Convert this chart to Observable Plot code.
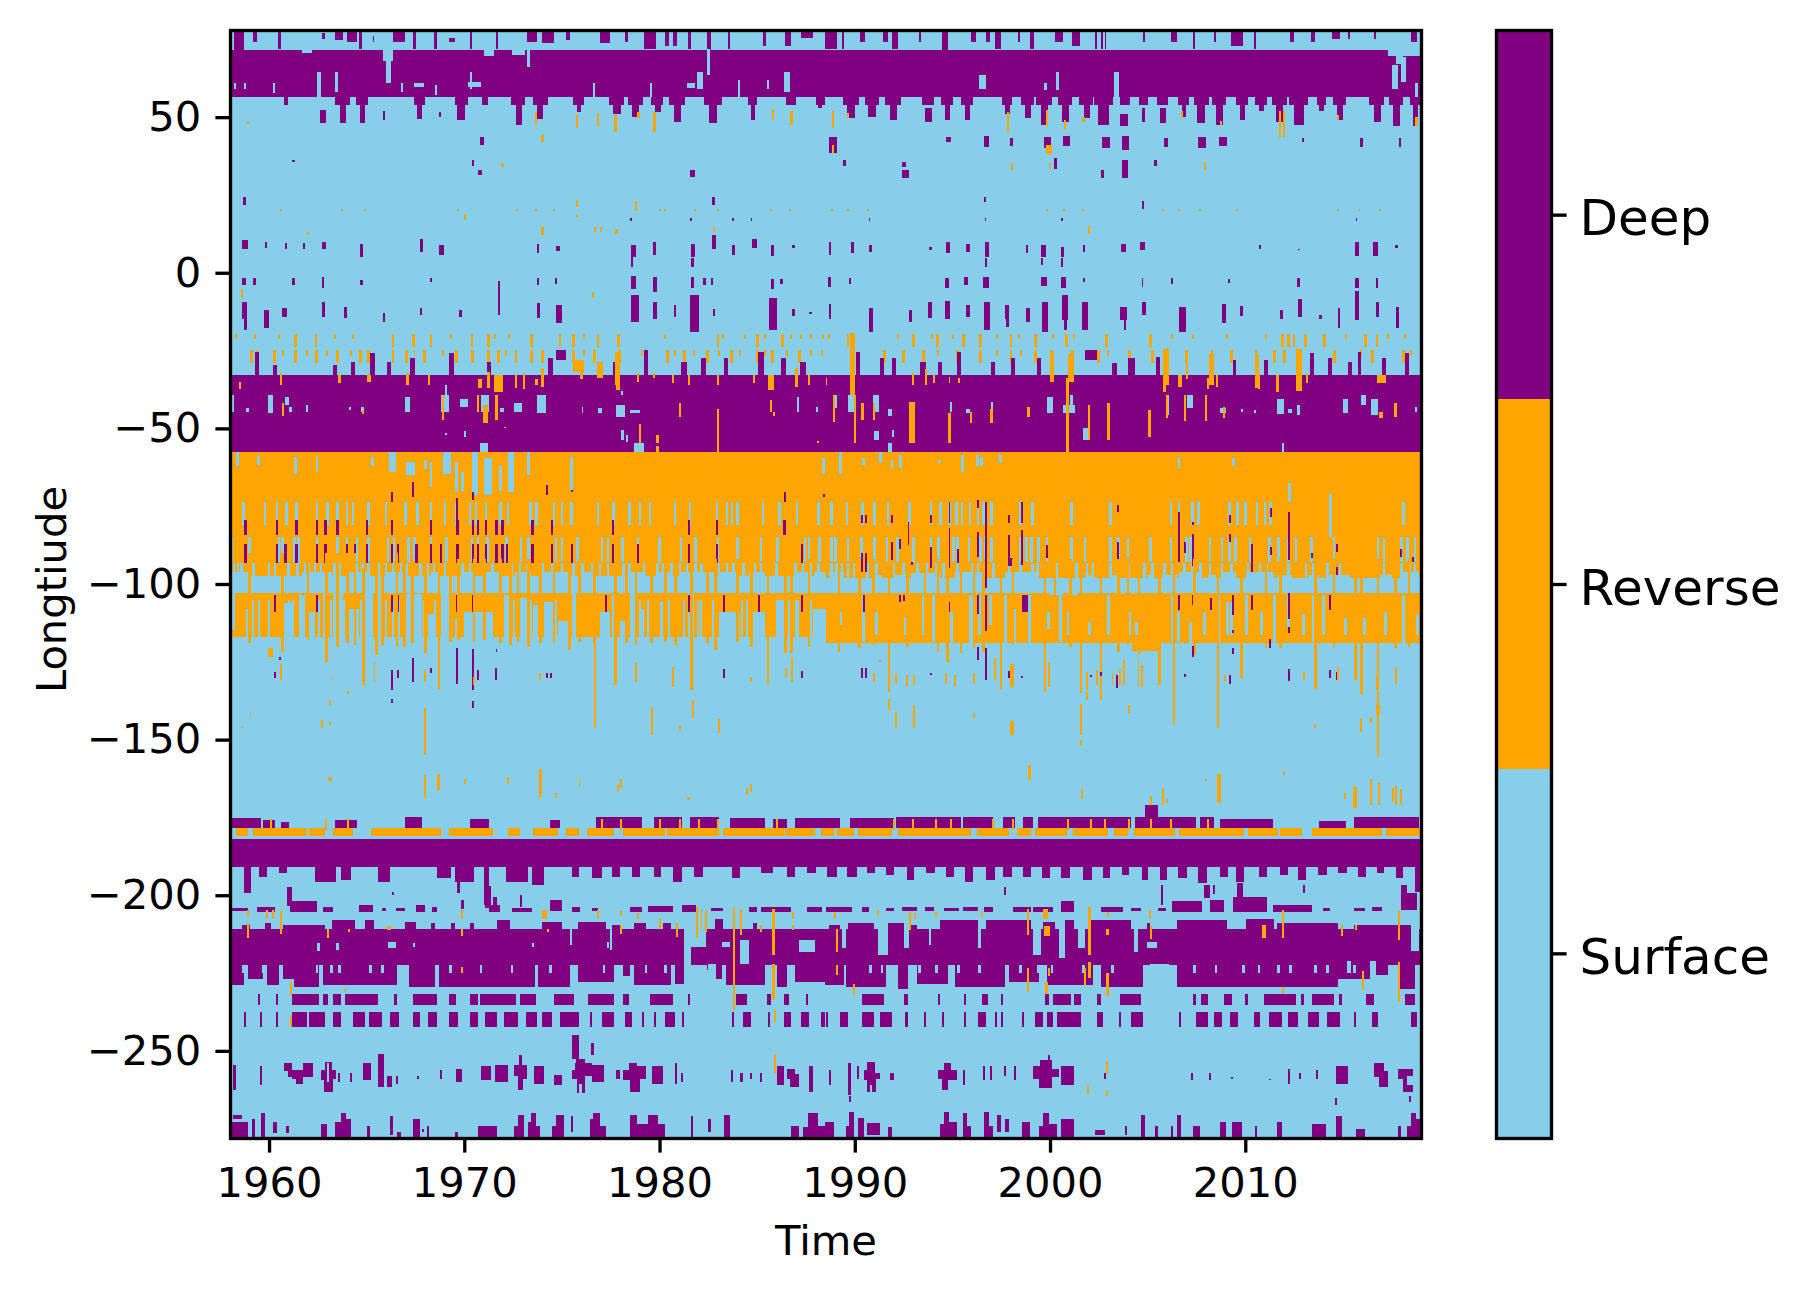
<!DOCTYPE html>
<html>
<head>
<meta charset="utf-8">
<script src="https://cdn.jsdelivr.net/npm/d3@7"></script>
<script src="https://cdn.jsdelivr.net/npm/@observablehq/plot@0.6"></script>
<style>
body { margin: 0; background: white; }
#chart { display: flex; width: 1810px; }
</style>
</head>
<body>
<div id="chart"></div>
<script>
// values: [from, to, lonA, lonB] blocks or [year, lonA, lonB] sticks
const kinds = ["Surface", "Reverse", "Deep"];
const kindColors = ["#87ceeb", "#ffa500", "#800080"];
const xTicks = [1960, 1970, 1980, 1990, 2000, 2010];
const yTicks = [50, 0, -50, -100, -150, -200, -250];
const xDomain = [1958, 2019];
const yDomain = [-278, 78];

const deepBands = [
  [1958,2019,71.7,56.5],[1958,2019,-33,-57.6],[1958,2019,-181.8,-190.9],[1958,2019,-211,-222.5]
];
const reverseBands = [[1958,2019,-57.6,-98],[1958,2019,-103,-117],[1988.5,2019,-117,-119],[2004.2,2005.6,-119,-121.5]];

// north fringe
const deepNorthTop = [
  [1958.23,1958.72,78,71.6],[1959.2,1959.4,78,74.2],[1960.45,1960.6,78,72],[1962.7,1962.85,77,75],[1963.4,1963.8,78,74.8],
  [1964,1964.5,78,74.2],[1964.6,1964.75,78,72],[1965.3,1965.4,76,74],[1966.37,1966.95,78,74.2],[1967.35,1967.55,78,72],
  [1968.43,1968.62,78,72],[1969.2,1969.5,75.3,74.2],[1970.3,1970.4,78,72],[1971.62,1971.72,78,72],[1973.23,1973.72,78,74.2],
  [1974,1974.6,78,73.7],[1975.2,1975.4,78,74.8],[1976.95,1977.45,78,73.7],[1978.23,1978.4,78,74],[1979.2,1979.8,78,72],
  [1980.3,1980.5,78,73],[1980.7,1980.9,78,73],[1981.45,1981.6,78,72],[1982.45,1982.65,78,69],[1983.5,1983.6,78,72],
  [1985.3,1985.45,78,73],[1986.45,1986.75,78,73],[1987.25,1987.85,78,75.5],[1988.48,1989.07,78,72],[1989.36,1989.45,78,72],
  [1990.25,1990.54,78,74],[1991.42,1991.72,78,74],[1991.91,1992.2,78,72],[1993.28,1993.38,78,74],[1994.46,1994.75,78,71.6],
  [1995.93,1996.22,78,74],[1996.72,1996.91,78,74],[1997.2,1997.5,78,72],[1998.38,1998.48,78,74],[1998.97,1999.17,78,72],
  [2000.24,2000.64,78,74],[2001.13,2001.52,78,73],[2002.3,2002.4,78,72],[2002.6,2002.7,78,72],[2002.8,2002.89,78,72],
  [2004.75,2004.85,78,74],[2006.22,2006.52,78,74],[2007.3,2007.4,78,72],[2008.38,2008.5,78,74],[2009.27,2009.86,78,73],
  [2010.44,2010.54,78,72],[2012.3,2012.5,78,74],[2013.38,2013.58,78,74],[2014.46,2014.85,78,75],[2015.24,2015.34,78,75],
  [2016.6,2016.7,78,75],[2018.48,2018.77,78,74]
];
const surfaceNorthNotches = [
  [1965.97,1966.27,72,60.9],[1965.85,1966.35,72,68],[1973.2,1973.35,72,66],[1982.45,1982.6,72,63.5],[1971,1971.5,72,69.6],
  [1972.45,1973.1,72,70],[1961.7,1962.2,72,70.5],[1962.45,1962.65,64.6,56.5],[1963.4,1963.55,64.6,58.2],[1970.3,1970.4,64.6,59.2],
  [1986.37,1986.66,64.6,58.2],[1985.5,1985.6,61.9,59.2],[1984,1984.1,61.9,56],[1960.2,1960.3,60.9,57.6],[1958.7,1958.8,60.9,59.2],
  [1958.2,1958.3,60.9,59.2],[1976.57,1976.67,60.9,56.5],[1979.5,1979.6,60.9,56.5],[1981.4,1981.8,61,59.5],[1981.9,1982.25,64.6,59.2],
  [1970.2,1970.85,61.4,59.8],[1966.75,1966.87,60.9,58.2],[1967.4,1967.95,60.9,59.8],[1968.5,1968.6,60.3,57],
  [2017.5,2017.8,66.7,59.2],[2018,2018.25,69.4,61.4],[2017.3,2019,72,69.5],[2017.7,2018.1,72,67],[2018.7,2018.85,60.9,56.5],
  [2003.3,2003.55,64.6,55],[2000.3,2000.45,64.6,58.7],[1996.35,1996.7,63.5,59.2],[1999.7,1999.85,60.9,58.7]
];
const deepNorthShoulders = [
  [1963.4,1964.15],[1964.45,1965.05],[1967.4,1968],[1969.5,1970.2],[1972.4,1973.1],[1973.5,1974.3],[1975.55,1976.15],[1977.4,1978.2],[1978.4,1979.15],[1979.55,1980.2],[1980.5,1981.3],
  [1982.3,1983.2],[1984.55,1985],[1986.5,1987],[1988,1988.48],[1989.4,1990.2],[1990.5,1991.25],[1991.55,1992.35],[1993.45,1994.05],[1994.4,1995.05],[1995.45,1996.05],[1997.55,1998.05],
  [1998.5,1999.2],[1999.3,2000.1],[2000.4,2001.15],[2001.5,2002.2],[2002.25,2003.2],[2003.6,2004.1],[2004.55,2005],[2005.5,2006.05],[2006.55,2007.1],[2007.35,2008.15],[2008.3,2009],
  [2009.5,2010.15],[2010.5,2011.1],[2011.35,2012.15],[2012.25,2013.2],[2013.65,2014.15],[2014.5,2015.15],[2016.35,2017.1],[2017.35,2018.1],[2018.45,2019]
];
const deepNorthTeeth = [
  [1960.78,1960.98,57,54],[1962.6,1962.94,52.4,48],[1963.65,1963.95,57,48],[1964.65,1964.9,57,48],[1965.83,1965.92,52,49],
  [1967.6,1967.85,57,49.5],[1968.7,1968.8,51.5,50],[1969.65,1970.05,57,49],[1970.9,1971.2,57,54],[1972.65,1972.95,57,47.5],
  [1973.7,1974.05,57,49.3],[1975.75,1976,57,51.5],[1977.6,1978.05,57,51],[1978.57,1978.95,57,50],[1979.75,1980.05,57,51.5],
  [1980.75,1981.1,57,48.5],[1982.55,1982.95,57,48],[1984.7,1984.9,57,49],[1986.66,1986.8,52,48],[1988.1,1988.33,57,53],
  [1989.62,1990,57,49.6],[1990.7,1991.08,57,50],[1991.78,1992.15,57,49],[1993.62,1993.93,53,48.5],[1994.6,1994.87,57,49],
  [1995.62,1995.9,57,49],[1997.7,1997.93,57,51],[1998.73,1999.02,57,49.6],[1999.52,1999.9,57,47.5],[2000.6,2000.98,57,48.5],
  [2001.72,2002.05,57,49.6],[2002.48,2003.02,57,47.5],[2003.58,2003.97,51,47],[2004.72,2004.85,53,48.5],[2005.64,2005.93,53,48],
  [2006.75,2006.95,57,50],[2007.55,2007.95,57,48.2],[2008.5,2008.85,57,47.5],[2009.72,2010,57,49],[2010.68,2010.95,57,52],
  [2011.58,2011.95,57,48.5],[2012.48,2013,57,47.5],[2013.8,2014.03,57,52],[2014.72,2015,57,49],[2016.58,2016.95,57,48.5],
  [2017.55,2017.95,57,47],[2018.6,2018.85,57,47]
];
const reverseNorthSticks = [
  [1973.66,51.5,47.5],[1975.78,50.7,46.6],[1976.86,51.2,47],[1977.74,50.7,45.3],[1978.92,51.8,49.6],[1979.74,51.5,45.1],
  [1986.76,52,47.5],[1985.82,52.6,49],[1958.92,48.8,47.7],[1988.9,52,46.6],[1989.66,51.2,49.6],[1997.85,51.5,44.8],
  [1999.85,52.3,47.3],[2000.77,49,45.9],[2001.72,50.1,48.3],[2011.77,52,43.7],[2011.97,52,43.7],[2014.75,50.7,49],
  [2018.77,50.1,47.1],[2006.76,52,49.6],[2008.77,48.8,47.5],[1974,44.3,41.9],[1971.96,35.2,34.1]
];
const deepScatterNorth = [
  [1970.78,1971.03,43.7,41],[1961.2,1961.35,36.3,35.5],[1970.4,1970.5,36.2,34.4],[1970.68,1970.92,33,31.4],[1981.56,1981.82,33,30.9],
  [1988.68,1989.07,43.7,38.4],[1994.66,1994.95,43.7,41.9],[1996.62,1996.87,43.9,40.5],[1997.93,1998.08,43.4,40.8],[1999.7,2000.05,43.7,40],
  [2000.64,2001,44,40.8],[2002.64,2003.09,43.7,40],[2003.68,2004.07,44,39.4],[2005.83,2006.03,43.2,40.5],[2007.6,2008,43.7,40],
  [2008.67,2009.06,43.7,40.8],[2012.9,2013,43.2,41.9],[2015.9,2016.03,43.2,40.5],[2017.85,2018,43.2,40.5],[1989.42,1989.56,36.2,34.4],
  [1992.4,1992.64,35.7,34.1],[1992.4,1992.8,33,30.5],[2000.2,2000.34,36.8,33.5],[2002.6,2002.74,33,30.5],[2003.68,2003.97,36.2,30.3],
  [2005.3,2005.48,36.2,34.4],[1958.68,1958.82,24.4,21.8],[1982.7,1982.85,24.4,21.8],[1996.6,1996.72,24.4,22.8],[2004.7,2004.8,23,20.5]
];
const reverseScatterNorth = [
  [1988.9,41,38.4],[1999.8,2000.1,41,38],[1998.05,35.2,33],[1999.99,35.2,33.5],[2007.93,35.5,33],[1975.78,23.3,21.2],[1978.8,23,20],
  [1970.03,19,17],[1975.78,19,17.9],[1974,14.8,12.1],[1976.7,14.8,13.2],[1977,14.8,13.2],[1977.8,14.2,12.3],[1962,13,12.1],
  [2002,15,12.3],[1982.78,14.8,13.2],[1958.6,-5.3,-8],[1976.6,-6.1,-8.2]
];
const reverseDotYears = [
  1960.6,1963.75,1964.9,1969.7,1972.7,1973.65,1974.6,1980,1980.3,1981.8,1983,1985.7,1986.7,1988.85,1989.65,1990.7,
  1999.85,2000.7,2001.7,2005.8,2006.6,2007.7,2009.6,2014.75,2015.85,2016.9
];
const deepDots14Years = [1978.55,1981.6,1983.75,1984.7,1990.75,1996.7,2000.6,2015.7];

// the yearly rows of small deep patches through the surface layer
const deepRow8 = [
  [1958.6,1958.92,10.5,7.6],[1959.84,10,8],[1960.88,9.5,7.7],[1961.8,9.5,7.7],[1962.72,1962.9,10,7.6],[1964.74,9.4,5.2],[1967.72,1967.88,11,6.8],
  [1968.7,1968.95,9,5.7],[1973.78,9.4,6.5],[1974.68,1974.88,8.7,7],[1978.55,1978.8,9,5.2],[1978.6,5.2,1.9],[1979.66,1979.84,9.8,5.7],
  [1981.6,1981.82,9.4,5.2],[1981.68,4.6,1.9],[1982.68,1982.88,12,7.6],[1983.78,9,5.7],[1984.75,1984.98,10.8,8],[1985.78,8.9,5.5],[1986.86,9,7.8],
  [1988.72,10,5.7],[1989.8,1989.95,9.8,6.5],[1990.72,1990.88,8.9,6.8],[1993.87,8.4,7.3],[1994.66,1994.9,9.8,6.2],[1995.68,1995.9,9.4,6.8],
  [1996.65,1996.85,10,5.2],[1996.72,4.6,1.9],[1998.81,9,6.2],[1999.55,1999.8,9,5.2],[1999.6,4.6,2.4],[2000.55,2000.72,8.4,5],[2000.62,4.6,1.9],
  [2001.75,9,6.8],[2003.65,2003.88,9.4,6.8],[2004.6,2004.88,10,7.3],[2010.77,9,7.6],[2012.75,7.6,7.2],[2015.62,2015.85,10,5.5],[2016.55,2016.8,9.8,5.5],[2017.75,9,7.8]
];
const deepRowMinus3 = [
  [1958.6,1958.82,-1.6,-3.9],[1959.25,-1.6,-3.9],[1961.25,-1.6,-3.9],[1962.78,-1.3,-5],[1964.74,-2.3,-3.9],[1968.3,-1.6,-3.1],[1973.78,-1.6,-3.9],
  [1974.7,-1.6,-3.5],[1978.55,1978.8,-0.9,-5.2],[1979.65,1979.85,-1.3,-6.1],[1981.62,1981.78,-1.3,-5],[1982.3,-1.8,-4],[1982.7,-1.8,-3.9],
  [1985.7,1985.86,-2.1,-5.2],[1986.25,-2.1,-3.7],[1988.62,1988.76,-1.5,-4.5],[1989.7,1989.8,-1.6,-3.7],[1994.6,1994.8,-1.6,-4.8],[1995.6,1995.8,-1.3,-3.9],
  [1996.55,1996.85,-1.3,-5],[1999.55,1999.85,-1.5,-4.2],[2000.55,2000.8,-1.5,-5],[2001.75,-1.6,-3.1],[2004.72,2004.78,-1.6,-4.7],[2006.25,-1.6,-3.7],
  [2009.15,-2,-3.2],[2012.72,-1.8,-4.5],[2015.6,2015.85,-1.6,-5],[2016.7,2016.8,-1.6,-4.8]
];
const deepRowMinus12 = [
  [1958.62,1958.85,-9.5,-14.7],[1958.8,-14.7,-18.4],[1959.75,1959.98,-12,-17.9],[1960.65,1960.9,-11.4,-14.1],[1962.72,1962.88,-9.5,-14.1],
  [1963.82,1964,-10.9,-14.5],[1965.82,1965.95,-13,-15.7],[1967.78,-11.4,-13.6],[1969.8,-12,-14.1],[1971.78,-2.7,-13.6],[1973.72,1973.9,-9.8,-14.5],
  [1974.7,1975,-10.4,-16.3],[1978.55,1978.95,-7.2,-15.7],[1979.68,1979.88,-9.3,-14.7],[1980.78,-10.4,-14.1],[1981.55,1982,-7.2,-18.9],[1982.78,-11.6,-13.8],
  [1985.6,1986,-8.2,-18.4],[1986.86,-11.7,-13.8],[1987.74,-12.7,-13.4],[1988.72,-10.1,-14.7],[1990.75,1990.92,-11.4,-18.9],[1992.8,1992.95,-12,-15.7],
  [1993.75,1993.95,-9.5,-14.5],[1994.6,1994.9,-9.1,-14.7],[1995.7,1995.92,-10.4,-14.1],[1996.6,1996.9,-9.3,-18.4],[1997.7,1997.9,-10.4,-14.7],[1997.82,-14.7,-17.3],
  [1998.75,1998.95,-11.4,-15.7],[1999.6,1999.9,-9.3,-18.9],[2000.6,2000.92,-7.2,-15.2],[2000.8,-15.2,-18.4],[2001.65,2001.92,-9.5,-18.4],[2003.6,2003.95,-10.9,-15.2],
  [2003.85,-15.2,-18.4],[2004.72,2004.9,-9.5,-13.6],[2006.6,2006.95,-10.9,-18.9],[2008.8,2009,-10.1,-16.3],[2009.8,-10.6,-14],[2011.85,-12,-14.7],[2012.7,2012.88,-8.5,-14.1],
  [2013.85,-13.6,-14.7],[2014.8,-11.4,-17.9],[2015.6,2015.8,-6,-15.2],[2016.7,2016.85,-9.5,-14.1],[2017.72,2017.88,-10.9,-17.9]
];

// reverse fringe above the -33 deep band
const fringeUpperTall = [
  1961.35,1962.4,1966.35,1967.4,1968.3,1970.4,1971.25,1973.45,1974.9,1975.6,1976.85,1977.9,1983,1985,1986.3,1989.65,1993,1994.25,1995.55,1996.45,1998,1999.25,2000.85,2002.9,2005.15,
  2011.9,2012.2,2012.5,2013.1,2014.05,2016.15,2016.75
];
const fringeUpperShort = [
  1958.3,1959.3,1960.5,1963.4,1964.3,1969.3,1971.55,1972.3,1976.15,1980.3,1983.25,1984.4,1985.4,1986.75,1987.25,1987.75,1988.35,1988.7,1992.2,1993.95,1995.05,1997.3,1998.4,2000.15,2001.25,
  2006.25,2007.3,2009.05,2011.05,2015.15,2017.3,2018.2
];
const fringeLowerTall = [
  1959.1,1960.3,1961.35,1962.45,1963.5,1964.7,1965.1,1966.35,1967.05,1967.95,1969.6,1970.4,1971.25,1971.75,1972.65,1973.45,1974,1975.6,1976.65,1977.95,1980.4,1981.3,1982.45,1983.7,1985,1985.8,
  1987.15,1991.5,1992.5,1993.5,1995.25,1996.45,1998,1999.25,2001.15,2002.5,2004.05,2005.25,2007,2009.3,2011.5,2012,2014.55,2016.5,2018.1
];
const fringeLowerShort = [
  1959.4,1960.7,1961.95,1962.95,1964.2,1967.45,1968.9,1972.15,1976.15,1979.1,1980.8,1981.75,1983.05,1984.1,1985.4,1986.55,1987.75,1988.3,1994.25,1997.3,1998.5,2000.05,2002,2002.95,2006,2008.3,
  2010.55,2012.8,2015.95,2018.5
];
const deepSpikesUp = [
  [1959.3,1959.5,-25.4,-33],[1960.2,1960.4,-29.6,-33],[1963.3,1963.5,-29.6,-33],[1964.2,1964.4,-28.6,-33],[1965.15,1965.45,-25.9,-33],[1966.05,1966.25,-28.6,-33],
  [1967.2,1967.5,-27.5,-33],[1969.2,1969.45,-25.9,-33],[1971.15,1971.35,-28.6,-33],[1974.3,1974.55,-27.5,-33],[1974.7,1975.2,-24.8,-28],[1977.6,1977.85,-28.6,-33],
  [1979.2,1979.4,-24.8,-33],[1981.1,1981.4,-28.6,-33],[1982.1,1982.4,-27.5,-33],[1983.3,1983.5,-27.5,-33],[1985.05,1985.35,-25.4,-33],[1986.2,1986.5,-27.5,-33],
  [1987.2,1987.5,-28.6,-33],[1990.05,1990.25,-25.4,-33],[1991.3,1991.5,-27.5,-33],[1991.9,1992.1,-27.5,-33],[1993.35,1993.65,-28.6,-33],[1994.25,1994.45,-28.6,-33],
  [1995.25,1995.45,-25.4,-33],[1997,1997.2,-28.6,-33],[1998,1998.2,-27.5,-33],[1999.35,1999.55,-27.5,-33],[2001.8,2002.4,-24.8,-28],[2003.15,2003.45,-29,-33],
  [2004,2004.35,-27.5,-33],[2005.45,2005.65,-27,-33],[2008.2,2008.4,-27.5,-33],[2009.35,2009.55,-28,-33],[2010.95,2011.15,-28,-33],[2013.3,2013.5,-25.8,-33],
  [2014.25,2014.45,-27.5,-33],[2015.25,2015.45,-28.6,-33],[2015.75,2015.95,-25.4,-33],[2017,2017.2,-27.5,-33],[2018.2,2018.4,-25.9,-33]
];
const reverseOverBand = [
  [1960.55,1960.65,-32.3,-36.1],[1958.45,1958.55,-35,-37.2],[1963.55,1963.7,-32.9,-35.5],[1965,1965.2,-32.9,-35],[1967,1967.15,-32.3,-36.1],
  [1968.15,1968.25,-32.9,-36.1],[1970.7,1970.9,-34,-37],[1971.15,1971.3,-32,-37],[1971.5,1972,-32.9,-38.2],[1972.6,1972.7,-32.9,-37],[1973,1973.1,-32.3,-37.2],
  [1973.6,1973.8,-34,-36.1],[1973.95,1974.1,-30.7,-36.6],[1977.75,1978,-33,-37.7],[1978.85,1978.95,-32.3,-35],[1979.65,1979.75,-32.3,-33.9],[1980.65,1980.75,-32.9,-35.5],
  [1981.45,1981.55,-32.9,-36.1],[1982.95,1983.05,-32.9,-36.1],[1984.8,1984.9,-33,-35.5],[1985.55,1985.85,-33,-37.7],[1986.95,1987.1,-30.7,-36.6],[1987.62,1987.72,-33,-36],
  [1975.55,1976.15,-28,-31.8],[1975.95,1976.1,-31,-34],[1976.8,1977.1,-28.6,-33.9],[1977.7,1978,-25.4,-36.1],[1988.5,1988.6,-33.9,-36],[1989.78,1990,-19.5,-39.3],
  [1992.95,1993.05,-32.3,-36.1],[1993.58,1993.72,-31,-36.1],[1994,1994.1,-32.9,-35.5],[1994.8,1994.9,-33.5,-35.5],[1995.3,1995.4,-33.9,-35.5],[2000.8,2000.95,-33.9,-39.3],
  [2005.8,2005.95,-31.8,-38.2],[2006.55,2006.75,-32.9,-36.6],[2008.05,2008.15,-33.9,-37.2],[2008.5,2008.6,-32.9,-36.6],[2010.65,2010.75,-32.9,-37.2],[2011.55,2011.75,-32.9,-38.2],
  [2012.65,2012.8,-32.9,-37.7],[2013.1,2013.2,-32.3,-35.5],[2016.75,2017.2,-32.9,-35.5],[2000,2000.2,-25,-35],[2000.9,2001.25,-26,-35],[2005.8,2006.1,-24.5,-36],
  [2006.95,2007.05,-25,-34],[2008.15,2008.4,-26,-36],[2010.5,2010.7,-26.5,-37],[2012.6,2012.9,-24.5,-38]
];
const surfaceInBand = [
  [1958.1,1958.2,-39.3,-44.7],[1958.8,1958.95,-43.6,-44.7],[1959.95,1960.2,-39.3,-44.9],[1960.8,1961,-39.8,-42.5],[1961,1961.2,-43,-44.7],[1961.9,1962,-42.5,-44.7],
  [1964.1,1964.2,-43,-44.1],[1964.7,1964.85,-43,-44.7],[1966.95,1967.2,-39.8,-44.7],[1968.8,1969.2,-39.3,-44.7],[1969.8,1970.2,-40.4,-43],[1970.85,1971.25,-39.3,-44.7],
  [1971.85,1972.05,-43.6,-44.7],[1972.55,1972.95,-42,-44.7],[1973.7,1974.2,-39.3,-45.2],[1976.05,1976.1,-43,-45.2],[1976.85,1977.05,-43.6,-44.9],[1977.75,1978.25,-42.5,-46.3],
  [1978.5,1979,-44.1,-44.9],[1987.05,1987.15,-39.8,-44.7],[1988,1988.1,-43,-44.7],[1978.05,1978.2,-50.5,-53.8],[1978.3,1978.4,-52.2,-54.3],[1978.7,1979.2,-54.8,-57.6],
  [1970.8,1971.2,-54.8,-57.6],[1969,1969.1,-51.5,-52],[1970,1970.1,-51,-52.7],[1988.9,1989.1,-39.3,-43.6],[1989.65,1989.95,-39.3,-44.7],[1990.95,1991.25,-39.3,-44.7],
  [1991.7,1991.9,-43.8,-45.9],[1991,1991.25,-50.9,-53.8],[1991.9,1992,-50.5,-52.7],[1991.7,1991.9,-54.8,-57.6],[1994.9,1995,-41.4,-44.7],[1995.7,1995.9,-43.8,-45.2],
  [1997,1997.1,-41.4,-44.1],[1999.85,2000.15,-39.8,-45.2],[2000.65,2001.3,-42.5,-45.2],[2001,2001.2,-39.3,-42.5],[2001.7,2002,-50,-53.8],[2006,2006.1,-39.3,-45.7],
  [2007,2007.3,-39.3,-43.6],[2008.7,2009,-43.6,-45.2],[2009.8,2009.9,-43.8,-44.7],[2010.45,2010.55,-44,-44.9],[2011.6,2012,-40.4,-45.5],[2012.2,2012.4,-43.8,-44.9],
  [2012.65,2012.8,-42.5,-45.7],[2015,2015.25,-40.4,-44.9],[2015.95,2016.2,-39.3,-42.5],[2016.45,2016.8,-40.4,-45.7],[2011.9,2012,-54.8,-57.6],[2018.7,2018.8,-43,-44.7],
  [1969,1969.1,-36,-39.3],[1978.05,1978.15,-38,-39.3]
];
const reverseInBand = [
  [1960.7,-42,-45.9],[1964.8,-44.1,-45.5],[1968.9,-39.3,-47.3],[1970.7,-39.3,-44.7],[1970.95,1971.2,-42.5,-48.4],[1971.65,-39.3,-47.3],[1972.1,-49.7,-50],[1979,-48.7,-54.8],
  [1979.9,-52,-54.8],[1979.9,-55.5,-57.6],[1981.05,-42,-46.3],[1983,-43.8,-57.5],[1985.7,-40.9,-44.7],[1985.85,-44.7,-46],[1988.1,-54,-54.8],[1988.95,-39.3,-47.9],
  [1990,-39.3,-54.8],[1990.4,-42,-47.3],[1991,-42,-47.3],[1992.8,1993.1,-41.5,-54.8],[1994.85,-45.2,-54.8],[1995.95,-44.7,-48.4],[1997,-43.8,-48.4],[1998.9,-43,-46.3],
  [2000.9,-39.3,-57.6],[2002,-42.5,-53.8],[2003,-42,-53.8],[2005.1,-44.1,-52.7],[2006,-39.3,-46.6],[2006.9,-39.3,-47.7],[2008,-39.3,-47.7],[2008.9,-43,-46.6],[2017.7,-42,-46.3],
  [2016.85,2017.05,-44.7,-46.8]
];

// reverse block: surface columns and deep columns
const surfaceTopColumns = [
  [1958.4,-57.6,-62],[1959.45,-59,-61.8],[1961.35,-59.1,-64.5],[1962.45,-59,-64.1],[1965.3,-59.1,-62],[1966.15,1966.5,-57.6,-64.1],[1967,1967.45,-60.7,-65],[1968,-60,-63],
  [1968.3,-60.7,-68.8],[1968.9,1969.3,-57.6,-64.5],[1969.6,-60.7,-70.4],[1970.4,1970.7,-57.6,-71.4],[1971,1971.4,-59.6,-71.4],[1972.25,1972.55,-57.6,-70.4],[1973.3,-57.6,-65],
  [1975.5,-59.1,-69.9],[1988.4,-59.6,-64.5],[1971.85,-62,-70],[1969.9,-64,-70],[1989.25,-57.6,-64.5],[1990.45,-59.6,-61.8],[1991.3,-57.6,-61.2],[1991.9,-60.2,-62.9],
  [1992.35,-58.6,-62.7],[1994.35,-60.2,-61.2],[1995.5,-58.6,-64],[1996.3,-58.6,-62],[1996.5,-59.1,-62],[1997.45,-58.4,-61.2],[2006.6,-59.1,-62.7],[2009.4,-59.6,-62],
  [2012.25,-67.7,-73.6],[2014.35,-71,-85]
];
const surfaceColumnsA = [
  1958.7,1959.8,1960.4,1960.9,1961.4,1962.45,1963,1963.5,1964,1964.3,1965.1,1966,1967,1967.6,1968.3,1969,1969.6,1970.3,1970.6,1971.1,1971.85,1972.25,1973.4,1973.7,
  1974.6,1975,1975.5,1976.85,1977.65,1978.45,1979,1979.5,1980.8,1981.55,1982.95,1983.45,1983.7,1984,1985.3,1986.15,1987.05,1988.15,1988.8,1989.6,1990.4,1991,1991.7,
  1992.8,1993.9,1994.4,1994.85,1995.2,1995.5,1995.9,1996.3,1996.6,1997,1998.5,1999.1,2001.1,2003.1,2006.2,2006.6,2007.3,2007.6,2009.2,2009.6,2010,2010.6,2011,2011.3,2014.4,2018.1
];
const surfaceColumnsB = [
  1958.1,1959,1960.5,1960.7,1961.3,1961.5,1962.45,1963.5,1964,1964.5,1965.1,1966.1,1966.4,1967.15,1967.45,1968.3,1969.1,1970.4,1970.7,1971.2,1972.15,1972.9,1973.3,1974.7,
  1975,1975.8,1977.05,1977.35,1978.1,1978.9,1980,1981.1,1981.85,1983,1984,1985.2,1986.05,1987.45,1987.65,1988.2,1988.8,1989,1989.65,1990.35,1991,1991.65,1992.2,1993,1993.9,
  1994.3,1995.05,1995.25,1995.85,1996.45,1996.7,1997,1997.9,1998.5,1998.8,1999.05,1999.4,1999.85,2001.1,2001.8,2003.1,2003.5,2004,2005.15,2006.2,2007,2007.2,2008.2,2008.8,
  2009.2,2009.5,2010.25,2011.25,2011.7,2012.2,2012.6,2013.4,2014.55,2016.8,2017.1,2018,2018.3,2018.7
];
const surfaceColumnsC = [
  1958.2,1958.4,1958.6,1959.2,1960,1960.3,1960.7,1961,1961.45,1961.85,1962.05,1962.35,1962.65,1962.95,1963.35,1963.6,1964,1964.5,1964.8,1965.1,1965.6,1966,1966.35,1966.75,1967.05,1967.75,
  1968.15,1968.45,1969,1969.3,1969.9,1970.3,1971,1971.45,1971.85,1972.45,1972.85,1973.2,1974,1974.5,1975,1975.6,1976.05,1976.55,1976.95,1977.35,1978.15,1978.45,1978.8,1979.2,1979.9,1980.2,
  1980.6,1981.05,1981.4,1981.85,1982.15,1982.45,1983.05,1983.45,1983.8,1984.3,1984.9,1985.2,1986,1986.45,1986.95,1987.35,1987.75,1988.15,
  1988.8,1989.05,1989.35,1989.65,1989.95,1990.65,1991.1,1992,1992.5,1993.2,1993.7,1994.15,1994.55,1995.25,1996,1996.3,1996.7,1997.1,1997.9,1998.5,1999.1,1999.35,2000.35,2001.05,2001.35,
  2001.9,2002.2,2003.1,2004.05,2004.85,2005.25,2005.85,2006.25,2006.9,2007.3,2007.7,2008.2,2008.8,2009.3,2010.15,2010.75,2011.1,2011.8,2012.2,2013.1,2013.5,2014.2,2014.85,2017.1,2018,2018.4,2018.7
];
const surfaceBlobs = [
  [1958,1988.5,-97.5,-103],[1958.1,1958.9,-96,-97.5],[1961.7,1963.2,-96,-97.5],[1964,1965,-96,-97.5],[1966,1966.95,-96,-97.5],[1968.3,1968.7,-96,-97.5],[1969.9,1970.5,-96,-97.5],
  [1971.1,1971.85,-96,-97.5],[1972.6,1973.4,-96,-97.5],[1974,1975.4,-96,-97.5],[1975.8,1976.55,-96,-97.5],[1978.1,1979.3,-96,-97.5],[1979.9,1980.65,-96,-97.5],[1981,1982.8,-96,-97.5],
  [1983,1984,-96,-97.5],[1984.6,1985.4,-96,-97.5],[1987,1987.7,-96,-97.5],[1987.9,1988.45,-96,-97.5],
  [1988.7,1989.45,-96,-103],[1991,1991.4,-97,-103],[1992,1992.6,-97,-102.5],[1992.9,1994.35,-96.5,-102.5],[1995.15,1996.7,-96,-102.5],[1997.7,1999.45,-96,-102.5],[2000,2000.65,-98,-103.6],
  [2001,2001.45,-98,-103.5],[2001.8,2002.2,-97,-103],[2003,2003.6,-97,-103],[2004,2004.35,-98,-102.5],[2004.95,2005.35,-97,-103],[2005.75,2006.5,-97,-103],[2006.6,2007.8,-96,-103],
  [2008.1,2008.5,-97,-103],[2008.8,2009.5,-96,-103],[2010.05,2011.45,-96,-103],[2011.6,2012.4,-97,-103],[2013.2,2013.8,-97,-103],[2014.2,2015.35,-97,-103],[2016.9,2017.5,-97,-103],[2017.9,2018.9,-96,-103]
];
const surfaceLowerColumns = [
  [1958.1,1958.25,-103,-114.8],[1958.8,1958.95,-107.9,-117],[1960.7,1961.15,-106.2,-117],[1961.55,1961.85,-103.6,-117],[1962.05,1962.35,-108.9,-117],[1962.75,1962.9,-103,-117],
  [1963.3,1963.8,-103,-118.6],[1964,1964.6,-107.9,-117],[1964.9,1965.3,-103,-121.8],[1965.6,1965.75,-103,-119.6],[1966.95,1967.85,-103.3,-117],[1968.15,1968.45,-109.5,-117],
  [1968.8,1969.3,-103,-117],[1969.5,1969.65,-111,-117],[1970,1971.45,-108.9,-117],[1972.05,1972.35,-103.6,-117],[1972.85,1973.25,-104.6,-117],[1973.5,1973.8,-106.7,-117],
  [1974.1,1974.6,-105.7,-117],[1974.8,1975.3,-112,-117],[1975.5,1975.7,-103,-117],[1976.95,1977.45,-108.9,-117],[1977.55,1977.75,-103.6,-117],[1977.95,1978.3,-112,-117],
  [1978.5,1978.8,-103,-117],[1979,1979.2,-108,-117],[1980,1980.2,-105.7,-117],[1981.45,1981.75,-103,-117],[1982.05,1982.2,-105,-117],[1983.05,1984.1,-108.9,-117],[1984.8,1985.4,-108.9,-117],
  [1986.05,1986.35,-105,-117],[1986.95,1987.15,-105,-117],[1987.85,1988.5,-107.9,-119]
];
const surfaceLowerThin = [
  1959.2,1959.5,1960,1961,1961.25,1962.55,1963.15,1963.85,1964.7,1966,1966.35,1966.65,1967.95,1968.5,1969.7,1971.85,1972.55,1973.4,1973.9,1974.7,1975.4,1975.9,1977.65,1979,1979.4,1980.5,1981.25,
  1981.95,1982.75,1984.2,1984.5,1986,1986.65,1987.75
];
const surfaceLowerColumnsRight = [
  [1989.25,-108.9,-113.2],[1990.45,-103.6,-118.6],[1991.1,-108.9,-116.4],[1992.6,-110.5,-116.4],[1993.5,-103.6,-116.4],[1994.05,-103.6,-118.6],[1994.95,-108.9,-119],[1995.95,-103.6,-119],
  [1996.4,-103.6,-116.4],[1996.95,-103.6,-113.2],[1997.7,-103.6,-119],[1998.2,-108,-119],[1998.95,-103.6,-119],[1999.9,-108.9,-114.3],[2000.55,-103.6,-118.6],[2000.95,-108.9,-116.4],
  [2002,-112.1,-116.4],[2003,-103.6,-116.4],[2004.05,-108.9,-116.4],[2004.45,-112.1,-116.4],[2006.3,-103.6,-118.6],[2006.6,-108.9,-118.6],[2007.2,-112.1,-120.7],[2007.9,-108.9,-116.4],
  [2008.65,-103.6,-119],[2009.1,-105.7,-116.4],[2009.3,-105.7,-116.4],[2010.05,-103.6,-116.4],[2010.85,-108.9,-116.4],[2011.5,-103.6,-119],[2012.2,-103.6,-113.7],[2013,-109.5,-116.4],
  [2013.5,-103.6,-118.6],[2014,-103.6,-116.4],[2015.15,-111,-116.4],[2016.1,-111,-116.4],[2017.2,-108.9,-116.4],[2018.1,-103.6,-119],[2018.8,-109.5,-116.4]
];
const deepColumnsUpper = [1958.8,1960.4,1961.4,1962.45,1962.9,1963.5,1965,1966.3,1968.3,1969.65,1970.45,1970.7,1971.1,1971.65,1971.95,1973.5,1974.5,1977.6,1981.5,1982.95,1986.4];
const deepColumnsLower = [1958.8,1960.4,1960.85,1961.4,1962.45,1962.9,1964,1964.4,1965,1966.3,1966.6,1967.55,1968.3,1968.8,1969.65,1970.45,1970.7,1971.1,1971.65,1971.95,1972.2,1973.5,1974.5,1975.5,1977.6,1978.9,1981.5,1982.95,1987.3];
const deepColumnsUnderStripe = [1960.3,1962.45,1964,1964.4,1966.3,1966.6,1967.35,1969.65,1970.45,1977.25,1978.35,1981.5,1983.3,1985.1,1987.3];
const deepColumnsRight = [
  [1990.35,-77.9,-80.5],[1990.55,-77.9,-80.5],[1990.35,-90.2,-96.1],[1990.55,-90.2,-96.1],[1990.45,-103.6,-108.9],[1991.9,-77.9,-80.5],[1991.9,-86.4,-92.3],[1992.3,-85.4,-88.6],
  [1992.3,-103.6,-105.7],[1992.5,-103.6,-105.5],[1992.75,-80,-87.5],[1992.75,-103.6,-108.9],[1992.95,-92.9,-93.9],[1993.9,-77.9,-80.5],[1993.9,-88,-95],[1994.85,-73.6,-80.5],
  [1994.85,-82.1,-95],[1994.85,-105.7,-108.9],[1995.3,-88.6,-93.4],[1996.3,-73,-75.5],[1996.3,-83.2,-91.2],[1996.3,-103.6,-109.5],[1996.7,-73.6,-101.4],[1996.7,-103.6,-115],[1997.9,-77.9,-80.5],
  [1997.9,-84.3,-92],[1997.85,1998.1,-91.8,-94.1],[1998.55,-73.6,-80.5],[1998.55,-82.7,-93.9],[1998.55,1998.85,-103.6,-108.9],[1999.85,-87.5,-91.8],[2003.5,-74.6,-77],[2003.5,-86.4,-93.9],
  [2003.5,-103.6,-109.5],[2006.6,-76.8,-92.9],[2006.6,-103.6,-108.4],[2006.9,-86.4,-90.2],[2007.3,-80,-81],[2007.3,-83.8,-94.1],[2007.3,-103.6,-106.8],[2008.25,-104.6,-108.4],[2009.2,-77.9,-80.5],
  [2009.2,-83.8,-86.4],[2009.35,-103.6,-110],[2009.35,-114.8,-115.9],[2010.35,-87,-96.1],[2010.35,-103.6,-108.4],[2011.3,-75.7,-78.4],[2011.3,-88,-90.7],[2012.25,-76.8,-92.3],[2012.25,-103,-111.1],
  [2012.25,-113.7,-115.9],[2013.4,-90.2,-91.8],[2014.35,-103.6,-108.4],[2014.7,-87,-89.6],[2014.7,-94.5,-97.1],[2018,-88.6,-91.2],[2018.6,-91.2,-92.9]
];
const deepColumnsTop = [
  [1966.3,-70.4,-73.6],[1969.65,-72.5,-84],[1974.25,-68.3,-71.4],[1970.45,-70.4,-73],[1975.5,-69.9,-70.4],[1986.45,-70.4,-73.6],[1967.35,-67.2,-72],[1988.4,-71,-72]
];
const deepSticksBelow = [
  [1960.3,-128.2,-130.3],[1960.55,-123.4,-124.5],[1966.3,-127.7,-134.1],[1966.6,-127.7,-130.3],[1967.35,-123.9,-131.4],[1968.3,-127.1,-128.7],[1969.65,-120.7,-125.5],[1969.65,-125.5,-132],
  [1970.45,-120.9,-134.1],[1970.7,-127.7,-130.9],[1971.6,-127.1,-130.9],[1971.65,-120.9,-122],[1974.25,-128.5,-130.3],[1974.45,-128.5,-130.3],[1983.3,-127.4,-130.3],[1987.3,-128,-130.3],
  [1966.3,-137,-138.1],[1970.45,-137.6,-140],[1996.3,-120.2,-124.5],[1996.7,-120.7,-130.9],[1990.35,-127.1,-130.3],[1990.55,-127.1,-130.3],[1993.9,-128.5,-129.3],[1997.9,-128,-130.3],
  [1998.55,-129.5,-130.3],[2002.1,-129.3,-130],[2002.6,-128.2,-129.7],[2003.45,-129.3,-133.3],[2007.3,-119.8,-123.4],[2009.35,-120.7,-122.6],[2011.25,-117.7,-120.7],[2009.2,-129.3,-132],
  [2012.25,-127.4,-131.2],[2014.35,-127.7,-130.1],[2014.7,-128.2,-130.9],[2006.9,-129,-130]
];
const reverseLongLeft = [
  [1959,-90,-119.1],[1960.7,-90,-121.8],[1962,-90,-118],[1962.95,-90,-125],[1963.5,-90,-120.2],[1964,-90,-119.1],[1964.4,-90,-119.6],[1964.85,-95,-132.5],[1965.5,-90,-122.8],[1965.8,-90,-119.6],
  [1966.55,-90,-120.2],[1966.95,-92,-120.2],[1967.35,-92,-119.1],[1968,-92,-122.3],[1968.7,-92,-133.6],[1969.3,-92,-118.6],[1969.7,-92,-118],[1970.5,-92,-118.6],[1971.05,-92,-118],[1971.85,-92,-119.1],
  [1972.35,-92,-119.6],[1972.75,-92,-118.6],[1973.3,-92,-120.2],[1973.9,-92,-119.1],[1974.6,-92,-119.1],[1975.4,-92,-121.2],[1975.9,-92,-118.6],[1976.65,-92,-119.1],[1977.75,-95,-132.5],
  [1978.3,-92,-119.1],[1978.8,-92,-119.6],[1979.6,-92,-119.1],[1980.3,-92,-118.6],[1980.8,-92,-119.6],[1981.65,-92,-134.1],[1982.45,-92,-119.1],[1982.85,-92,-121.2],[1984,-92,-118.6],
  [1984.7,-92,-120.2],[1985.55,-92,-132.5],[1986.45,-92,-122.3],[1986.75,-92,-122.3],[1987.65,-92,-120.2]
];
const reverseLongRight = [
  [1989.2,-92,-121.8],[1990.25,-92,-120.7],[1990.95,-92,-119.6],[1991.75,-92,-134.6],[1992.7,-92,-120.2],[1993.6,-92,-119.1],[1994.25,-92,-121.8],[1994.75,-92,-125],[1995.45,-92,-122.3],[1996.1,-92,-120.7],
  [1996.6,-92,-121.8],[1997.5,-92,-134.1],[1998.1,-92,-119.6],[1999.75,-92,-134.6],[2000.25,-92,-119.1],[2001.05,-92,-120.2],[2001.6,-92,-135],[2002.6,-92,-137.3],[2003.5,-92,-121.8],[2004,-92,-119.6],
  [2004.55,-92,-122.8],[2005.6,-95,-132.5],[2006.35,-95,-145.3],[2007.4,-92,-122.8],[2008.6,-92,-146.4],[2009.8,-92,-130.3],[2011.05,-92,-120.7],[2011.8,-92,-120.7],[2013.6,-92,-133.6],[2014.55,-92,-120.7],
  [2015.65,-92,-130.9],[2015.95,-92,-135.2],[2016.8,-92,-155.5],[2017.7,-92,-120.7],[2018.4,-92,-120.2]
];
const reverseSticksBelow = [
  [1959.95,1960.2,-120.7,-123.4],[1960.6,-125.8,-130.9],[1963.25,-129.5,-130.9],[1968,-127.7,-131.4],[1965.4,-125,-131.4],[1970.5,-129.8,-132.5],[1973.9,-128.7,-130.9],[1976.7,-118.6,-146.4],[1978.8,-125.5,-131.4],
  [1979.6,-139.5,-148.6],[1980.7,-126.6,-133],[1981.7,-137.3,-143.2],[1983.05,-143.4,-148],[1981.05,-145.6,-147.2],[1986.8,-123.4,-131.4],[1986.5,-127.1,-129.8],[1984.7,-129.8,-131.4],[1967.97,-140,-155],
  [1963.1,-137.3,-138.9],[1963.1,-144.3,-145.3],[1964.05,-134.4,-135.5],[1959.05,-141,-142.3],[1958.6,-145.9,-146.4],[1962.7,-143.7,-146.4],[1991.3,-124.5,-125.2],[1991.75,-136.8,-140.5],[1991,-128.7,-131.4],
  [1992.1,-128.7,-132],[1992.1,-141,-146.4],[1992.65,-129.3,-133],[1993.05,-138.9,-146.4],[1993.05,-129.3,-132.3],[1994.65,-128.7,-132],[1995.15,-129.3,-133],[1996.1,-128.7,-132],[1996.1,-141.3,-143],
  [1997.2,-123.9,-130.9],[1997.95,1998.15,-125.8,-133],[1997.95,1998.15,-144,-148.6],[1999.95,-125,-133],[2001.58,-138.4,-148.6],[2001.58,-150.2,-152],[2001.9,-128.2,-134.1],[2001.9,-134.6,-137.3],[2002.4,-127.7,-132.5],
  [2003.2,-128.7,-132.5],[2003.6,-128,-132.5],[2003.77,-124.5,-132.5],[2004.05,-138.9,-141.5],[2004.53,-124.5,-133],[2004.72,-126.1,-133],[2008.97,-129.3,-131.2],[2013,-128.2,-130.9],[2014.75,-126.6,-130.9],
  [2015.93,-143.2,-147.5],[2016.43,-142.7,-144.5],[2016.75,-129.3,-134.1],[2016.7,2016.9,-138.9,-142.2],[2017.7,-126.6,-132],[2013.58,-145.1,-146.4],
  [1963,1963.2,-162,-163.3],[1968,-161.4,-168.9],[1968.62,1968.78,-160.9,-166.2],[1970.05,-162.5,-164.1],[1972.25,-162,-164.1],[1973.83,1973.97,-159.3,-168.4],[1974.7,-167.3,-168.9],[1975.9,-162,-165.2],
  [1977.85,-164.6,-166.8],[1978.05,-162.5,-165.7],[1981.42,1981.58,-168.4,-169.4],[1984.5,-165.7,-167.8],[1984.7,-164.4,-166.8],[1998.85,1999.05,-158.2,-163],[2001.65,-166,-169],[2005.15,-168,-171],[2005.8,-165.7,-170.9],
  [2006,-169,-170.5],[2008,-162.5,-163.2],[2008.55,2008.75,-161.2,-170.3],[2012,-160,-161.4],[2015.1,-167,-169],[2015.5,2015.7,-165.2,-172],[2016.45,-162.5,-171],[2016.85,-164,-171],[2017.55,-165.5,-170],[2017.7,-165,-171],[2018,-166,-171]
];

// double band near -180
const deepStrip = [
  [1958.1,1959.6,-175.3,-178.5],[1959.7,1960.3,-175.9,-178.5],[1960.6,1961,-176.5,-178.5],[1963.4,1964.5,-175.9,-178.5],[1966.95,1967.85,-174.8,-178.5],[1970.3,1971.25,-175.5,-178.5],[1974.4,1974.9,-175.9,-178.5],
  [1976.75,1979.1,-174.8,-178.5],[1979.7,1981.15,-174.8,-178.5],[1981.55,1983.05,-174.8,-178.5],[1983.6,1985.4,-175.3,-178.5],[1985.8,1986.55,-175.5,-178.5],[1986.95,1988.48,-175.3,-178.5],[1988.48,1989.26,-175.3,-178.5],
  [1989.75,1992,-175.3,-178.5],[1992.1,1995.45,-174.8,-178.5],[1995.55,1997.1,-174.8,-178.5],[1997.6,1998.2,-175,-178.5],[1998.6,1999.15,-175,-178.5],[1999.4,2004.15,-174.8,-178.5],[2004.35,2007.5,-174.8,-178.5],
  [2007.7,2008.4,-175,-178.5],[2008.7,2011.4,-175.5,-178.5],[2013.8,2015.15,-176,-178.5],[2015.55,2018.88,-175,-178.5],[2004.85,2005.55,-171,-174.8]
];
const reverseStrip = [
  [1958.3,1958.9],[1959.2,1961.95],[1962.05,1962.85],[1963.3,1964.3],[1965.2,1968.8],[1969.2,1971.45],[1972.25,1972.85],[1973.5,1974.8],[1975.2,1975.9],[1976.3,1977.65],[1978.15,1980.3],[1980.4,1983.05],
  [1983.25,1986.35],[1986.45,1987.95],[1988.25,1988.95],[1989.1,1989.95],[1990.15,1991.9],[1992.2,1995.95],[1996.25,1997.9],[1998.3,1999.05],[1999.25,2000.85],[2001.2,2002.95],[2003.3,2004],[2004.3,2006.4],
  [2006.6,2009.95],[2010.15,2011.7],[2011.8,2012.9],[2013.4,2017],[2017.2,2018.95]
];
const reverseStripSticks = [1960.1,1962.9,1964.05,1977.05,1978.05,1980,1981.05,1982,1983,1986,1992,1993,1994.15,1994.95,1997.1,1998.1,2000.9,2002.1,2002.8,2004.05,2005.15,2006.2,2008.1];
const deepLowerTeeth = [
  [1958.7,1959.1,-190,-199.4],[1959.5,1959.9,-190,-194],[1960.5,1960.9,-190,-193],[1962.35,1963.45,-190,-195.7],[1963.7,1964.2,-190,-195],[1965.6,1966.2,-190,-195.7],[1968.6,1969.3,-190,-194.6],[1969.5,1970.5,-190,-195.7],
  [1971,1971.25,-190,-203],[1972.15,1973.25,-190,-195.7],[1973.45,1974.1,-190,-196.8],[1975.5,1975.9,-190,-194],[1976.55,1977.05,-190,-194.6],[1977.55,1977.95,-190,-194],[1978.6,1979,-190,-194],[1979.7,1980.1,-190,-194],
  [1980.7,1981.15,-190,-195.7],[1981.75,1982.25,-190,-194],[1983.7,1984.1,-190,-194.6],[1985.2,1985.8,-190,-193],[1986.55,1986.95,-190,-194],[1987.55,1988,-190,-193],[1988.6,1989.1,-190,-194],[1989.6,1990.1,-190,-194],
  [1990.6,1991.05,-190,-193],[1991.6,1992,-190,-193.5],[1992.65,1993.05,-190,-195.2],[1993.65,1994.1,-190,-193],[1994.65,1995.1,-190,-194],[1995.65,1996.05,-190,-195.7],[1996.7,1997.2,-190,-195.2],[1997.6,1998.05,-190,-194],
  [1998.6,1999.05,-190,-194],[1999.6,2000,-190,-194.6],[2000.55,2001,-190,-194.6],[2001.7,2002.15,-190,-195.2],[2002.7,2003.05,-190,-194.6],[2003.7,2004.05,-190,-193.5],[2004.7,2005,-190,-195],[2005.65,2006,-190,-195.2],
  [2006.55,2007,-190,-194.6],[2007.6,2008.05,-190,-196.2],[2008.7,2009.1,-190,-194],[2009.55,2009.95,-190,-195.7],[2010.7,2011.1,-190,-194],[2011.8,2012.2,-190,-193.5],[2012.7,2013.1,-190,-195.2],[2013.75,2014.2,-190,-193.5],
  [2014.75,2015.2,-190,-193],[2015.75,2016.2,-190,-194],[2016.75,2017.1,-190,-193],[2017.7,2018.1,-190,-194.6],[2018.7,2019,-190,-198.9]
];
const deepDashes = [
  [1958.05,1958.9,-204,-205],[1959.4,1960.3,-203.7,-205.3],[1961.05,1962.45,-202,-205.3],[1962.75,1963.3,-203.7,-205.3],[1964.6,1965.3,-203,-205.3],[1965.8,1966,-204,-205],[1966.5,1966.95,-204,-205],[1967.55,1968,-203.2,-205.3],
  [1968.35,1968.6,-203.7,-205.3],[1971.25,1971.85,-203,-205.3],[1972.45,1973.45,-204,-205.3],[1974.4,1975,-201.6,-205],[1975.5,1975.95,-203.7,-205.3],[1976.55,1976.85,-204,-205],[1978.5,1979.1,-203.7,-205.3],[1979.4,1980.7,-203.5,-205.3],
  [1981.15,1981.85,-203.2,-205.3],[1982.65,1983.25,-204,-205],[1984.6,1985,-203.7,-205.3],[1985.2,1986.75,-203.7,-205.3],[1987.55,1988.3,-203.7,-205.3],[1988.5,1989.85,-203.7,-205.3],[1990.35,1990.75,-203.7,-205.3],[1991.6,1992,-204,-205],
  [1992.4,1993.2,-203.7,-205],[1993.6,1994.05,-203.7,-205],[1994.55,1995.35,-204,-205],[1995.55,1996.3,-203.7,-205],[1996.6,1997.1,-203.7,-205.3],[1998.1,1999.05,-203.7,-205.3],[1999.15,2000.15,-203.7,-205.3],[2000.55,2001.25,-202,-205.3],
  [2002.6,2003.75,-203.7,-205.3],[2004.15,2004.65,-204,-205],[2005.55,2005.95,-204,-205],[2006.25,2007.8,-202,-205.3],[2008.2,2008.9,-201.6,-205.3],[2009.35,2011.1,-200.5,-205.3],[2011.4,2013.4,-203.2,-205.3],[2014,2014.35,-204,-205],
  [2015.55,2016.15,-204,-205],[2016.5,2017,-203.7,-205],[2018,2018.8,-199.4,-204.8],[2009.6,2009.9,-196,-204],[1960.9,1961.2,-197.4,-203.5],[1969.7,-195,-199.4],[1969.9,-201.6,-204.3],[1971.05,1971.35,-197,-204],[1971.45,1971.7,-200.5,-204.3],
  [1972.9,-200,-203.7],[2005.75,-196.8,-203],[2007.9,2008.2,-196.8,-201],[2008.4,-196.8,-199.5],[2013,-196.8,-199.4],[2018,2018.3,-196.8,-201],[1997.7,-197.3,-200],[1966.35,-198.9,-199.9]
];

// southern deep block
const deepLowerBlocks = [
  [1958.1,1958.7,-222.5,-228.9],[1958.9,1959.7,-222.5,-226.8],[1959.9,1960.5,-222.5,-228.9],[1960.7,1961.3,-222.5,-226.8],[1961.3,1962.55,-222.5,-229.4],[1962.75,1966.55,-222.5,-228.9],[1967.15,1968.5,-222.5,-229.4],
  [1968.7,1973.6,-222.5,-229.4],[1973.8,1975.4,-222.5,-229.4],[1975.8,1977.65,-222.5,-227.8],[1978.15,1978.5,-222.5,-226],[1978.7,1980.6,-222.5,-228.9],[1980.8,1981.25,-222.5,-228.4],[1982.45,1983.2,-222.5,-226.8],
  [1983.4,1985.4,-222.5,-228.9],[1986,1986.55,-222.5,-229.4],[1986.95,1988.48,-222.5,-228],[1988.48,1989.45,-222.5,-228.9],[1989.55,1991.6,-222.5,-229.4],[1992.2,1992.7,-222.5,-230],[1993.2,1994.75,-222.5,-228.4],
  [1995.15,1997.7,-222.5,-229.4],[1997.9,1999.45,-222.5,-227.8],[1999.85,2002.2,-222.5,-228.9],[2002.6,2004.75,-222.5,-229.4],[2005.15,2005.75,-222.5,-226.8],[2006.5,2014.75,-222.5,-229.4],[2014.75,2016.4,-222.5,-226.8],
  [2016.7,2017.3,-222.5,-225.6],[2017.9,2018.7,-222.5,-230]
];
const deepUpperBumps = [
  [1958.6,1959,-209.5,-211],[1959.8,1960.1,-209,-211],[1960.7,1962.85,-209.6,-211],[1963.2,1964.4,-208,-211],[1964.9,1965.4,-208,-211],[1966.95,1967.55,-208.5,-211],[1968.3,1968.5,-209,-211],[1969.3,1969.5,-209,-211],[1970.3,1970.5,-209,-211],
  [1971.65,1972.35,-208,-211],[1974,1975,-208.5,-211],[1975.8,1977.25,-208.5,-211],[1977.55,1977.95,-209.6,-211],[1978.7,1979.3,-209,-211],[1980.2,1980.6,-209,-211],[1982.85,1983.25,-207.5,-211],[1984.8,1985,-209,-211],[1986.35,1987.7,-210.7,-211],
  [1988.7,1989.25,-209.6,-211],[1989.65,1991,-209,-211],[1991.7,1992.5,-209,-211],[1992.9,1993.2,-209.6,-211],[1994.35,1996.3,-208,-211],[1996.7,1999.05,-208,-211],[1999.65,2000.25,-208.5,-211],[2000.75,2001.25,-208,-211],[2002,2004.15,-208,-211],
  [2004.95,2005.1,-209,-211],[2006.5,2009.05,-208,-211],[2010.05,2011.45,-207.7,-211],[2011.6,2014.75,-209,-211],[2015.55,2018.5,-209.6,-211]
];
const surfaceInSouthBlock = [
  [1975.4,1975.5,-209,-216],[1977.45,1977.55,-209.6,-217.6],[1981.27,1981.6,-209,-231],[1981.6,1982.4,-209,-216.6],[1982.5,1982.9,-222,-228.9],[1982.3,1982.6,-224,-229.5],[1984.1,1984.6,-214.5,-222],[1987.15,1987.95,-214.5,-218.2],
  [1983.2,1983.6,-215,-216.6],[1989.35,1989.55,-209,-217],[1991.2,1991.7,-209,-219.3],[1992.5,1992.8,-209,-217.1],[1993.8,1993.9,-209,-216],[1996.3,1996.45,-209,-217.1],[1999.15,1999.55,-209,-219.3],[2000.45,2000.75,-209,-220.3],
  [2001.45,2001.8,-210,-217.1],[2004.3,2004.5,-210,-218.2],[2004.95,2005.5,-215,-217.1],[2018.5,2018.9,-209,-218],[2005.1,2006.1,-222,-227],[2016.4,2016.7,-221,-225.6],[2015.2,2015.4,-221,-225],
  [1962.45,1962.6,-215.5,-218],[1963.45,1963.6,-215.5,-217.5],[1966.1,1966.5,-215,-217],[1967.35,1967.5,-215.5,-216.5],[1973.45,1973.55,-215.5,-216.5],[1977.3,1977.4,-215,-217]
];
const surfaceDots224 = [1958.7,1959.7,1962.45,1963.2,1963.6,1965.2,1965.8,1969.3,1970.85,1972.45,1974.4,1977.15,1979.3,1980.3,1990.8,1991.4,1993.3,1994.2,1995.3,1996.4,1998.5,1999.4,2000.1,2001.7,2003.2,2007.4,2008.5,2009.9,2010.7,2011.7,2012.3,2013.6,2014.2,2015.6];
const reverseSouthSticks = [
  [1958.9,-204.8,-206.9],[1958.9,-209,-213.8],[1959.9,-204.8,-207.5],[1960.2,-204.8,-207.5],[1960.6,-204.8,-212.3],[1963,-210.7,-213.8],[1964.1,-210.7,-211.8],[1966.05,1966.25,-209.9,-211.2],[1969.9,-204.8,-207.5],[1969.9,-210.7,-213],
  [1974,1974.25,-204.8,-207.5],[1974.3,-210.7,-211.8],[1976.85,-204.8,-207.5],[1978.05,-205,-206.6],[1978.05,-209.6,-212.3],[1978.9,-205.8,-207.5],[1980,-207.7,-210.7],[1980.9,-209,-213.4],[1981.9,-203.7,-213.9],[1982.15,-204.3,-210.7],
  [1982.4,-204.8,-211.8],[1983.8,-203.7,-236.9],[1984.15,-204.3,-212.8],[1985.2,-209.6,-211.8],[1985.78,1985.92,-204.3,-219.3],[1985.78,1985.92,-222.2,-233.7],[1986.85,-205.3,-207.5],[1986.85,-209.6,-211.2],[1961.05,1961.15,-228,-232],
  [1963.9,-230,-231],[1969.9,-222.9,-225],[1961.05,1961.15,-238.7,-242.3],[1985.9,-250.9,-257],[1985.9,-236.9,-240.7],[1989,-205.3,-207.5],[1989.1,-210.7,-218.2],[1989.1,-222.5,-225.6],[1991.2,-204.8,-206.3],[1992.85,-205.3,-211.2],
  [1993.1,-205.8,-207.5],[1994.15,-205.3,-207],[1996.5,-205,-206.9],[1998.85,-204.3,-212.8],[1998.85,-223.5,-231],[1999.65,1999.9,-204.5,-207.5],[1999.7,2000,-210,-213],[1999.95,-223.5,-226],[1999.72,1999.88,-227.8,-233.7],
  [2001.92,2002.1,-203.7,-219.3],[2001.92,2002.08,-221.5,-226.5],[2001.8,-223.5,-229],[2002.9,2003,-205.3,-207],[2002.88,2003,-210.7,-212.8],[2002.88,2003,-225,-232.5],[1989.95,-228.4,-232],[2005.1,-204.8,-207.5],[2005.15,-210,-214],
  [2010.85,2011.05,-209.5,-213.7],[2011.95,-204.8,-213.7],[2014.95,-209.6,-213],[2015.65,-209.6,-211.2],[2016.05,-224.5,-230.5],[2017.85,-204.8,-214.4],[2017.85,-221.5,-234.2],[2011.95,-229.5,-231.5],[2002.9,-253.3,-257.3],[2002.85,2002.98,-262.7,-264.5],
  [2001.95,-261,-264],[1999.75,1999.9,-277,-278]
];

// rows of southern patches
const deepRowA = [
  [1959.45,1959.55],[1960.35,1960.45],[1961.15,1962.55],[1962.75,1963],[1963.3,1963.7],[1963.9,1965.6],[1966.4,1966.55],[1967.35,1968.6],[1969.2,1969.6],[1970.3,1970.7],[1970.8,1972.65],[1972.85,1973.65],[1974.6,1975.6],[1976.35,1977.65],
  [1978.15,1978.45],[1979.5,1980.7],[1981.45,1981.55],[1983.9,1984.5],[1985.5,1985.7],[1986.35,1986.65],[1987.5,1987.6],[1990.35,1991.5],[1992.5,1992.7],[1994.25,1994.35],[1995.6,1995.7],[1996.5,1996.8],[1997.5,1997.6],[1999.75,1999.95],
  [2000.15,2001.05],[2001.25,2001.6],[2002.4,2002.6],[2003.6,2004.65],[2007.3,2007.5],[2007.75,2008.1],[2008.9,2009.3],[2010,2010.15],[2010.95,2012.6],[2012.85,2013],[2013.4,2014.55],[2014.8,2014.95],[2016.2,2016.6],[2018.2,2018.7]
];
const deepRowB = [
  [1958.7,1958.8],[1959.55,1959.65],[1960.35,1960.45],[1961.15,1961.95],[1962.05,1962.85],[1963.3,1963.7],[1964.3,1964.9],[1965.1,1965.8],[1966.2,1966.65],[1967.35,1967.75],[1968.15,1968.6],[1969.2,1969.7],[1970.3,1970.7],[1971.05,1971.65],[1972.05,1972.75],
  [1973.15,1973.7],[1974,1974.5],[1974.9,1975.9],[1976.45,1976.55],[1977.05,1977.65],[1978.25,1978.6],[1979.1,1979.2],[1979.7,1979.8],[1980.3,1980.8],[1981.15,1981.25],[1983.7,1983.8],[1984.3,1984.7],[1985.55,1985.65],[1986.35,1986.75],[1987.25,1987.65],[1988.25,1988.48],
  [1988.55,1988.65],[1989.25,1989.65],[1990.35,1991],[1991.3,1991.9],[1992.55,1992.7],[1993.55,1993.65],[1994.45,1994.55],[1995.6,1995.7],[1996.3,1996.7],[1997.2,1997.3],[1997.5,1997.6],[1998.55,1998.65],[1999.25,1999.65],[1999.85,2000.15],[2000.35,2001.6],[2002.4,2002.7],
  [2003.55,2003.65],[2004.15,2004.75],[2006.6,2006.7],[2007.5,2008.1],[2008.4,2008.8],[2009.2,2009.65],[2010.45,2010.75],[2011.2,2011.9],[2012.2,2012.7],[2013.2,2013.8],[2014.2,2014.85],[2015.55,2015.65],[2016.5,2016.8],[2018.5,2018.8]
];
const deepPatches255 = [
  [1958.15,1958.3,-254.6,-262.6],[1959.6,-255,-261],[1960.75,1961.2,-254,-258.5],[1961.2,1961.75,-256,-260.5],[1961.75,1962.25,-254,-258.5],[1962.65,1963.45,-253.5,-263.2],[1963.6,-257,-260],[1964.2,-257,-260],[1964.8,1965.2,-254,-259.4],
  [1965.6,1965.9,-251,-261.6],[1966.05,1966.3,-258,-261.6],[1966.55,-258,-260.5],[1967.65,-258,-259],[1968.8,-256,-259],[1969.6,1969.9,-255.7,-260],[1970.85,1971.35,-255,-259.4],[1971.55,1972.25,-254.6,-260],[1972.55,1973.2,-251.4,-262.6],
  [1973.55,1974.1,-255,-260.5],[1974.6,1975,-257.8,-261],[1975.5,1976.55,-254,-263.7],[1975.5,1975.9,-245,-252.5],[1976.5,1976.65,-247.6,-251.4],[1975.7,1976.2,-252.5,-254],[1976.55,1977.15,-254.6,-260],[1977.75,1977.95,-256,-259],[1978.15,1979.3,-254,-263.2],
  [1979.6,1980.2,-255,-260.5],[1980.85,-254,-260.5],[1981.15,-257,-260],[1983.7,-256,-260],[1984.1,1984.3,-257,-260],[1984.7,-257,-259],[1985.2,-257,-260],[1986,1986.4,-255,-261],[1986.55,1987.15,-255.7,-261.6],[1987.65,1987.85,-255,-263.2],
  [1988.75,-256,-261],[1989.65,1989.8,-254,-264.2],[1990.15,-255,-259],[1990.45,1991.3,-253.5,-263.2],[1991.8,1992,-257,-259.5],[1994.25,1995.25,-254,-262.6],[1995.6,-256,-261],[1996.6,-255,-259.5],[1997,-255,-259.5],[1997.7,-255,-258],[1998.2,-255,-259.5],
  [1999.15,2000.45,-253,-262],[1999.9,2000,-251.4,-253],[2000.55,2001.25,-255,-261],[2002.8,-257,-259],[2007.25,-257,-259.5],[2008.2,-257,-259.5],[2009.3,-258.5,-259],[2011.25,-259,-259.5],[2012.2,2012.3,-255.7,-260.5],[2012.8,-257,-259],[2013.65,-256,-259],
  [2014.65,2015.25,-255,-260.5],[2016.6,2017.3,-254,-261.6],[2017.8,2018.6,-255.7,-263.2],[1989.75,-264.5,-266.5],[2018.45,-264.5,-266.5],[2014.65,-265,-267.5]
];
const deepBottom = [
  [1958.1,1958.9,-273,-278],[1958.15,1958.6,-270.7,-272],[1959.2,-272,-278],[1959.6,1959.8,-270,-278],[1960.2,1960.4,-273,-276.5],[1960.95,-274,-276.5],[1962.65,1962.95,-273.5,-278],[1963.4,1964.2,-270.1,-278],[1965.1,-274,-278],[1966.27,-271,-277],
  [1966.55,1966.75,-276,-278],[1967.35,1967.75,-272,-278],[1968.15,-274,-278],[1969.6,-276,-278],[1970.7,1971.65,-274,-278],[1972.55,1973.05,-270.7,-278],[1973.25,1973.9,-270.1,-278],[1974.5,1975.1,-270.7,-278],[1975.5,-271,-276],[1976.45,1977.25,-270.1,-278],
  [1978.5,1980.3,-273.5,-278],[1978.5,1978.85,-270.7,-273.5],[1979.4,1979.9,-270.7,-273.5],[1981.65,-271,-278],[1982.55,-272,-276],[1983.3,1983.6,-270.7,-278],[1986.75,1987.15,-274,-278],[1987.35,1988.45,-270.1,-278],[1988.48,1988.95,-273,-278],
  [1989.55,1989.95,-269.6,-278],[1990.15,1990.45,-271.5,-278],[1990.65,1991.3,-273.3,-277],[1991.7,1991.9,-274.5,-278],[1994.35,1995.25,-269.6,-278],[1995.55,1995.95,-270,-278],[1996.6,1997.1,-269.6,-278],[1997.3,1997.5,-270.7,-276],[1997.7,1997.9,-272,-276],
  [1998.55,1998.95,-273,-278],[1999.45,2000.35,-270.1,-278],[2000.55,2001.25,-272,-278],[2002.3,2002.8,-275.5,-277],[2003.9,-274,-277],[2004.65,2004.85,-270.7,-278],[2005.45,-274,-278],[2006.25,-274,-278],[2006.5,2006.7,-270.7,-278],[2007.3,2007.7,-274,-278],
  [2008.7,2009,-273,-278],[2009.3,2009.85,-273,-278],[2010.55,-274,-278],[2011.6,2011.9,-273,-278],[2013.4,2014.15,-273.5,-278],[2014.65,2014.95,-271,-278],[2015.65,2016.15,-275,-278],[2017.9,-274,-278],[2018.3,2018.95,-270.1,-278],[1967.9,-275,-276]
];
const surfaceCutsSouth = [
  [1962.65,1962.85,-253.5,-256],[1963.2,1963.45,-253.5,-256],[1962.65,1962.8,-259.5,-263.2],[1963.25,1963.45,-259,-263.2],[1962.95,1963.05,-254,-260],[1975.5,1975.75,-259,-263.7],[1976.2,1976.55,-258,-263.7],[1975.5,1975.65,-254,-256],
  [1975.85,1976.05,-260.5,-263.7],[1978.15,1978.45,-254,-256],[1978.15,1978.5,-259.5,-263.2],[1979,1979.3,-259,-263.2],[1978.85,1979.3,-254,-255],[1990.45,1990.65,-253.5,-256],[1991.05,1991.3,-253.5,-257],[1990.45,1990.6,-259.5,-263.2],
  [1991.1,1991.3,-259,-263.2],[1990.8,1990.9,-261,-263.2],[1994.25,1994.55,-254,-256],[1994.25,1994.45,-259,-262.6],[1994.75,1995.25,-259.5,-262.6],[1994.95,1995.25,-254,-256],[1999.15,1999.5,-253,-255],[1999.15,1999.45,-259,-262],
  [2000.1,2000.45,-258.5,-262],[2000.1,2000.45,-253,-255.7],[2016.6,2016.85,-258.5,-261.6],[2017.1,2017.3,-254,-256.5],[2017.8,2018.1,-259,-263.2],[2018.3,2018.6,-258,-261],[1972.55,1972.75,-258,-262.6],[1972.95,1973.2,-251.4,-254.5],
  [1972.55,1972.8,-251.4,-254.5],[1960.75,1960.95,-256.5,-258.5],[1961.2,1961.4,-259,-260.5],[1973,1973.2,-259,-262.6],[1986.55,1986.7,-259,-261.6],[1986.95,1987.15,-255.7,-257.5],
  [1963.4,1963.7,-270.1,-273],[1963.95,1964.2,-270.1,-272],[1972.55,1972.75,-270.7,-274],[1973.25,1973.4,-270.1,-273],[1973.65,1973.9,-270.1,-274],[1974.5,1974.7,-270.7,-274],[1976.95,1977.25,-270.1,-274],[1976.45,1976.6,-270.1,-272],
  [1987.35,1987.6,-270.1,-274.5],[1988.1,1988.45,-270.1,-274],[1989.55,1989.72,-269.6,-274],[1994.35,1994.55,-269.6,-273.5],[1994.85,1995.25,-269.6,-273],[1995.75,1995.95,-270,-274],[1996.85,1997.1,-269.6,-274],[1999.45,1999.65,-270.1,-274],
  [1999.95,2000.35,-270.1,-273.5],[2018.3,2018.5,-270.1,-274],[2018.75,2018.95,-270.1,-272]
];

// [from, to, lonA, lonB] or [year, lonA, lonB] -> table row; a stick is one narrow cell wide
const cell = (kind, r, w = 0.12) => r.length === 4
  ? {x1: r[0], x2: r[1], y1: r[2], y2: r[3], kind}
  : {x1: r[0] - w / 2, x2: r[0] + w / 2, y1: r[1], y2: r[2], kind};
const rows = (kind, list, w) => list.map(r => cell(kind, r, w));
const span = (kind, a, b, years, w) => years.map(y => cell(kind, [y, a, b], w));
const strip = (kind, a, b, pairs) => pairs.map(p => cell(kind, [p[0], p[1], a, b]));

// drawn in this order, later layers paint over earlier ones
const cells = [
  cell("Surface", [xDomain[0], xDomain[1], yDomain[1], yDomain[0]]),
  ...rows("Deep", deepBands),
  ...rows("Reverse", reverseBands),
  ...rows("Deep", deepNorthTop),
  ...strip("Deep", 56.5, 54, deepNorthShoulders),
  ...rows("Deep", deepNorthTeeth),
  ...rows("Surface", surfaceNorthNotches),
  ...rows("Reverse", reverseNorthSticks),
  ...rows("Deep", deepScatterNorth),
  ...rows("Reverse", reverseScatterNorth),
  ...span("Reverse", 20.6, 19.8, reverseDotYears, 0.1),
  ...span("Deep", 17.5, 16.5, deepDots14Years, 0.08),
  ...rows("Deep", deepRow8),
  ...rows("Deep", deepRowMinus3),
  ...rows("Deep", deepRowMinus12),
  ...span("Reverse", -19.6, -23.8, fringeUpperTall, 0.14),
  ...span("Reverse", -19.6, -21.3, fringeUpperShort, 0.1),
  ...span("Reverse", -24.8, -29, fringeLowerTall, 0.15),
  ...span("Reverse", -24.8, -26.6, fringeLowerShort, 0.1),
  ...rows("Deep", deepSpikesUp),
  ...rows("Reverse", reverseOverBand),
  ...rows("Surface", surfaceInBand),
  ...rows("Reverse", reverseInBand),
  ...rows("Surface", surfaceTopColumns, 0.14),
  ...span("Surface", -73.6, -81, surfaceColumnsA, 0.13),
  ...span("Surface", -84.8, -92.9, surfaceColumnsB, 0.13),
  ...span("Surface", -93.4, -98, surfaceColumnsC, 0.13),
  ...rows("Surface", surfaceBlobs),
  ...rows("Surface", surfaceLowerColumns),
  ...span("Surface", -105, -117, surfaceLowerThin, 0.1),
  ...rows("Surface", surfaceLowerColumnsRight, 0.16),
  ...span("Deep", -79.5, -84.3, deepColumnsUpper, 0.12),
  ...span("Deep", -87, -93.4, deepColumnsLower, 0.12),
  ...span("Deep", -103.6, -108.9, deepColumnsUnderStripe, 0.12),
  ...rows("Deep", deepColumnsRight, 0.1),
  ...rows("Deep", deepColumnsTop, 0.1),
  ...rows("Reverse", reverseLongLeft, 0.14),
  ...rows("Reverse", reverseLongRight, 0.12),
  ...rows("Deep", deepSticksBelow, 0.1),
  ...rows("Reverse", reverseSticksBelow, 0.1),
  ...rows("Deep", deepStrip),
  ...strip("Reverse", -178.5, -180.9, reverseStrip),
  ...span("Reverse", -175.5, -179, reverseStripSticks, 0.1),
  ...rows("Deep", deepLowerTeeth),
  ...rows("Deep", deepDashes, 0.12),
  ...rows("Deep", deepLowerBlocks),
  ...rows("Deep", deepUpperBumps),
  ...rows("Surface", surfaceInSouthBlock),
  ...span("Surface", -222.5, -225, surfaceDots224, 0.14),
  ...rows("Reverse", reverseSouthSticks, 0.1),
  ...strip("Deep", -231.6, -235.3, deepRowA),
  ...strip("Deep", -237.5, -242.3, deepRowB),
  ...rows("Deep", deepPatches255, 0.1),
  ...rows("Deep", deepBottom, 0.12),
  ...rows("Surface", surfaceCutsSouth)
];

const fontFamily = "DejaVu Sans";
const heat = Plot.plot({
  width: 1450,
  height: 1294,
  marginLeft: 230,
  marginRight: 29,
  marginTop: 30,
  marginBottom: 156,
  style: {fontFamily, fontSize: "41.67px", background: "transparent"},
  x: {domain: xDomain},
  y: {domain: yDomain},
  color: {domain: kinds, range: kindColors},
  marks: [
    Plot.rect(cells, {x1: "x1", x2: "x2", y1: "y1", y2: "y2", fill: "kind", shapeRendering: "crispEdges"}),
    Plot.frame({stroke: "black", strokeWidth: 3.33}),
    Plot.axisX({ticks: xTicks, tickFormat: "d", tickSize: 14.6, tickPadding: 14.6, strokeWidth: 3.33,
      fontSize: 41.67, label: "Time", labelAnchor: "center", labelArrow: "none", labelOffset: 116.5}),
    Plot.axisY({ticks: yTicks, tickSize: 14.6, tickPadding: 14.6, strokeWidth: 3.33, fontSize: 41.67, label: null}),
    Plot.text(["Longtiude"], {frameAnchor: "left", textAnchor: "middle", rotate: -90, dx: -178, dy: 5, fontSize: 41.67})
  ]
});

const barTicks = [0.5, 1.5, 2.5];
const bar = Plot.plot({
  width: 360,
  height: 1294,
  marginLeft: 46,
  marginRight: 259,
  marginTop: 30,
  marginBottom: 156,
  style: {fontFamily, background: "transparent"},
  x: {domain: [0, 1], axis: null},
  y: {domain: [0, 3], axis: null},
  color: {domain: kinds, range: kindColors},
  marks: [
    Plot.rect(kinds, {x1: 0, x2: 1, y1: (d, i) => i, y2: (d, i) => i + 1, fill: d => d, shapeRendering: "crispEdges"}),
    Plot.frame({stroke: "black", strokeWidth: 3.33}),
    Plot.axisY({anchor: "right", ticks: barTicks, text: null, tickSize: 14.6, strokeWidth: 3.33, label: null}),
    Plot.axisY({anchor: "right", ticks: barTicks, tickFormat: d => kinds[Math.floor(d)], tickSize: 0, tickPadding: 28, dy: 4,
      fontSize: 50, label: null})
  ]
});

const div = document.getElementById("chart");
div.appendChild(heat);
div.appendChild(bar);
</script>
</body>
</html>
